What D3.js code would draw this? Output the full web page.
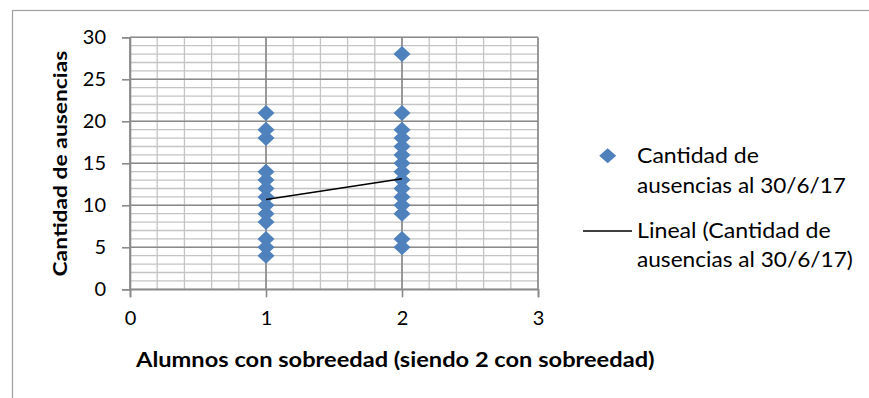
<!DOCTYPE html>
<html>
<head>
<meta charset="utf-8">
<script src="https://cdn.jsdelivr.net/npm/d3@7"></script>
<style>
  html, body { margin: 0; padding: 0; background: #fff; }
  svg { display: block; }
  text { font-family: Lato, "Open Sans", sans-serif; fill: #000; }
</style>
</head>
<body>
<svg id="chart" width="869" height="398"></svg>
<script>
// Absences per student, grouped by over-age flag (1 = regular age, 2 = over age)
const groupXs = [1, 2];
const absencesGroup1 = [4, 5, 6, 8, 9, 10, 11, 12, 13, 14, 18, 19, 21];
const absencesGroup2 = [5, 6, 9, 10, 11, 12, 13, 14, 15, 16, 17, 18, 19, 21, 28];

// Linear trend line, fitted values at each end
const trendXs = [1, 2];
const trendValues = [10.7, 13.15];

// Axis ticks
const xTicks = [0, 1, 2, 3];
const yTicks = [0, 5, 10, 15, 20, 25, 30];
const xMinorTicks = d3.range(0, 3.0001, 0.2);
const yMinorTicks = d3.range(0, 31, 1);

const seriesName = "Cantidad de ausencias al 30/6/17";
const legendLines = [
  ["Cantidad de", "ausencias al 30/6/17"],
  ["Lineal (Cantidad de", "ausencias al 30/6/17)"]
];
const xTitle = "Alumnos con sobreedad (siendo 2 con sobreedad)";
const yTitle = "Cantidad de ausencias";

const svg = d3.select("#chart");

// Squeeze a text horizontally (in its own frame) so it spans the given width
function fitWidth(sel, tx, ty, angle, width) {
  const len = sel.node().getComputedTextLength();
  const s = width / len;
  sel.attr("x", 0).attr("y", 0)
    .attr("transform", `translate(${tx},${ty}) rotate(${angle}) scale(${s},1)`);
  return sel;
}

// outer chart frame
svg.append("rect")
  .attr("x", 12.5).attr("y", 10.5)
  .attr("width", 900).attr("height", 420)
  .attr("fill", "none").attr("stroke", "#a0a0a0").attr("stroke-width", 1.2);

const plot = { left: 130, right: 538, top: 37.3, bottom: 289.3 };
const x = d3.scaleLinear().domain([0, 3]).range([plot.left, plot.right]);
const y = d3.scaleLinear().domain([0, 30]).range([plot.bottom, plot.top]);

const grid = svg.append("g");
// minor gridlines
grid.selectAll("line.vminor").data(xMinorTicks).join("line")
  .attr("x1", d => x(d)).attr("x2", d => x(d))
  .attr("y1", plot.top).attr("y2", plot.bottom)
  .attr("stroke", "#c4c4c4").attr("stroke-width", 1.3);
grid.selectAll("line.hminor").data(yMinorTicks).join("line")
  .attr("x1", plot.left).attr("x2", plot.right)
  .attr("y1", d => y(d)).attr("y2", d => y(d))
  .attr("stroke", "#c4c4c4").attr("stroke-width", 1.3);
// major gridlines
grid.selectAll("line.vmajor").data(xTicks).join("line")
  .attr("x1", d => x(d)).attr("x2", d => x(d))
  .attr("y1", plot.top).attr("y2", plot.bottom)
  .attr("stroke", "#8a8a8a").attr("stroke-width", 1.6);
grid.selectAll("line.hmajor").data(yTicks).join("line")
  .attr("x1", plot.left).attr("x2", plot.right)
  .attr("y1", d => y(d)).attr("y2", d => y(d))
  .attr("stroke", "#8a8a8a").attr("stroke-width", 1.6);

// axes
const yAxis = d3.axisLeft(y).tickValues(yTicks).tickFormat(d3.format("d"))
  .tickSize(8).tickPadding(16);
const xAxis = d3.axisBottom(x).tickValues(xTicks).tickFormat(d3.format("d"))
  .tickSize(8).tickPadding(14);

const gy = svg.append("g").attr("transform", `translate(${plot.left},0)`).call(yAxis);
const gx = svg.append("g").attr("transform", `translate(0,${plot.bottom})`).call(xAxis);
[gx, gy].forEach(g => {
  g.select(".domain").attr("stroke", "#8a8a8a").attr("stroke-width", 1.6);
  g.selectAll(".tick line").attr("stroke", "#8a8a8a").attr("stroke-width", 1.6);
  g.selectAll(".tick text")
    .style("font-family", "Lato, 'Open Sans', sans-serif")
    .style("font-size", "20px").attr("fill", "#000");
});

// scatter points
const points = [
  ...absencesGroup1.map(v => ({ g: groupXs[0], v })),
  ...absencesGroup2.map(v => ({ g: groupXs[1], v }))
];
const diamond = (cx, cy, hw, hh) =>
  `M${cx},${cy - hh}L${cx + hw},${cy}L${cx},${cy + hh}L${cx - hw},${cy}Z`;

svg.append("g").selectAll("path").data(points).join("path")
  .attr("d", d => diamond(x(d.g), y(d.v), 8.5, 8))
  .attr("fill", "#4f81bd");

// trend line
const line = d3.line().x(d => x(d[0])).y(d => y(d[1]));
svg.append("path")
  .datum(d3.zip(trendXs, trendValues))
  .attr("d", line)
  .attr("fill", "none").attr("stroke", "#000").attr("stroke-width", 1.5);

// axis titles
fitWidth(svg.append("text")
  .style("font-size", "20.5px").style("font-weight", "bold")
  .text(xTitle), 136, 367, 0, 519);

fitWidth(svg.append("text")
  .style("font-size", "19.5px").style("font-weight", "bold")
  .text(yTitle), 67, 276.5, -90, 226);

// legend
const legend = svg.append("g").attr("aria-label", seriesName);
legend.append("path").attr("d", diamond(607.7, 155.7, 8.5, 7.5)).attr("fill", "#4f81bd");
legend.append("line")
  .attr("x1", 583).attr("x2", 632).attr("y1", 231).attr("y2", 231)
  .attr("stroke", "#000").attr("stroke-width", 1.5);

const legendRows = [
  { text: legendLines[0][0], y: 163, w: 122 },
  { text: legendLines[0][1], y: 193, w: 209 },
  { text: legendLines[1][0], y: 238, w: 194 },
  { text: legendLines[1][1], y: 267, w: 216 }
];
legend.selectAll("text").data(legendRows).join("text")
  .style("font-size", "22px")
  .text(d => d.text)
  .each(function (d) { fitWidth(d3.select(this), 637, d.y, 0, d.w); });
</script>
</body>
</html>
